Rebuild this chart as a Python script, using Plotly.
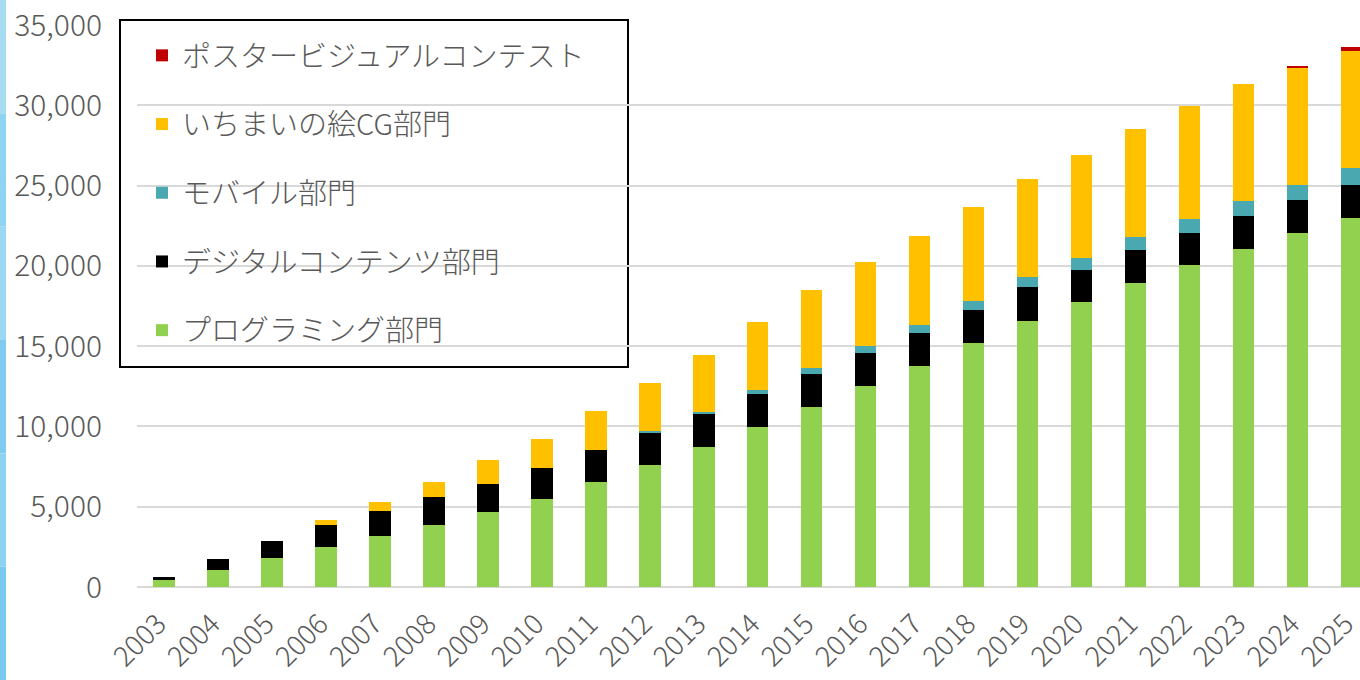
import plotly.graph_objects as go

years = [str(y) for y in range(2003, 2026)]

programming = [450, 1040, 1830, 2500, 3160, 3890, 4650, 5500, 6560, 7600, 8740, 9960,
               11230, 12500, 13745, 15200, 16580, 17740, 18930, 20035, 21060, 22030, 22970]
digital = [170, 710, 1040, 1345, 1560, 1700, 1790, 1915, 1950, 2050, 2030, 2050,
           2030, 2050, 2055, 2057, 2080, 2020, 2075, 2020, 2025, 2075, 2050]
mobile = [0, 0, 0, 0, 0, 0, 0, 0, 0, 50, 150, 250,
          355, 455, 500, 580, 675, 730, 780, 865, 970, 945, 1105]
ichimai = [0, 0, 0, 355, 600, 980, 1475, 1780, 2430, 3000, 3550, 4215,
           4860, 5210, 5570, 5840, 6065, 6390, 6740, 7040, 7255, 7280, 7250]
poster = [0] * 21 + [100, 230]

series = [
    ("プログラミング部門", programming, "#92d050"),
    ("デジタルコンテンツ部門", digital, "#000000"),
    ("モバイル部門", mobile, "#4aa8b0"),
    ("いちまいの絵CG部門", ichimai, "#ffc000"),
    ("ポスタービジュアルコンテスト", poster, "#c00000"),
]

FONT = "Noto Sans CJK JP"
GRAY = "#595959"

fig = go.Figure()
n_series = len(series)
for i, (name, vals, col) in enumerate(series):
    fig.add_trace(go.Bar(
        x=years, y=vals, name=name, marker=dict(color=col, line=dict(width=0)),
        width=0.4, legendgroup=f"g{i}", legendrank=n_series - i,
    ))

fig.update_layout(
    width=1360, height=680,
    margin=dict(l=137, r=0, t=25, b=93, autoexpand=False),
    barmode="stack",
    plot_bgcolor="white", paper_bgcolor="white",
    font=dict(family=FONT, color=GRAY, size=30, weight=300),
    showlegend=True,
    legend=dict(
        traceorder="grouped", tracegroupgap=28,
        x=5 / 1223, xanchor="left", y=1.0 - 5 / 562, yanchor="top",
        bgcolor="rgba(0,0,0,0)", borderwidth=0,
        font=dict(family=FONT, color=GRAY, size=29, weight=300),
    ),
    xaxis=dict(
        type="category", range=[-0.5, 22.16], tickangle=-45,
        showgrid=False, showline=False, ticks="", automargin=False,
        ticklabelshift=-6, ticklabelstandoff=14,
        tickfont=dict(family=FONT, color=GRAY, size=28, weight=300),
    ),
    yaxis=dict(
        range=[0, 35000], dtick=5000, tickformat=",d",
        showgrid=True, gridcolor="#d9d9d9", gridwidth=2,
        zeroline=True, zerolinecolor="#d9d9d9", zerolinewidth=2,
        showline=False, ticks="", ticklabelstandoff=34, automargin=False,
        tickfont=dict(family=FONT, color=GRAY, size=30, weight=300),
    ),
)

# legend frame
fig.add_shape(type="rect", xref="paper", yref="paper",
              x0=(120 - 137) / 1223, x1=(628 - 137) / 1223,
              y0=(587 - 367) / 562, y1=(587 - 20) / 562,
              line=dict(color="black", width=2), fillcolor="white", layer="below")

# light blue edge strip at the far left
strip_cols = ["#a6dcf2", "#8fd3f2", "#9ad8f3", "#80cbf0", "#8ed2f2", "#78c8f0"]
n = len(strip_cols)
for k, c in enumerate(strip_cols):
    fig.add_shape(type="rect", xref="paper", yref="paper",
                  x0=-137 / 1223, x1=(6 - 137) / 1223,
                  y0=(587 - 680 * (k + 1) / n) / 562,
                  y1=(587 - 680 * k / n) / 562,
                  line=dict(width=0), fillcolor=c, layer="below")

fig.write_html("out.html", config={"displayModeBar": False},
               post_script="document.body.style.margin='0';")
